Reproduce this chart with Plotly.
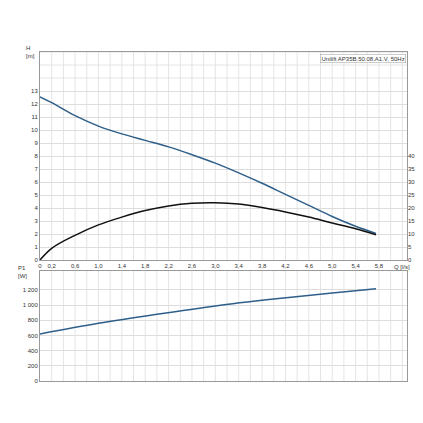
import plotly.graph_objects as go

q = [0, 0.2, 0.6, 1.0, 1.4, 1.8, 2.2, 2.6, 3.0, 3.4, 3.8, 4.2, 4.6, 5.0, 5.4, 5.75]
head = [12.55, 12.1, 11.1, 10.3, 9.7, 9.2, 8.7, 8.1, 7.45, 6.7, 5.9, 5.05, 4.2, 3.35, 2.6, 2.05]
eta = [0, 4.5, 9.5, 13.5, 16.5, 19, 20.8, 21.8, 22, 21.5, 20.2, 18.5, 16.5, 14.2, 12, 9.7]
qp = [0, 1, 2, 3, 4, 5, 5.75]
p1 = [620, 760, 880, 990, 1080, 1160, 1215]
xticks = [0, 0.2, 0.6, 1.0, 1.4, 1.8, 2.2, 2.6, 3.0, 3.4, 3.8, 4.2, 4.6, 5.0, 5.4, 5.8]
xlabels = [("%.1f" % v).replace(".", ",") if v else "0" for v in xticks]

fig = go.Figure()
fig.add_trace(go.Scatter(x=q, y=head, mode="lines", line=dict(color="#2e5f8a", width=1.5, shape="spline"), xaxis="x", yaxis="y"))
fig.add_trace(go.Scatter(x=q, y=eta, mode="lines", line=dict(color="#111111", width=1.5, shape="spline"), xaxis="x", yaxis="y2"))
fig.add_trace(go.Scatter(x=qp, y=p1, mode="lines", line=dict(color="#2e5f8a", width=1.5, shape="spline"), xaxis="x2", yaxis="y3"))

f = dict(family="Liberation Sans", size=6, color="#333333")
gc = "#dddddd"
xl, xr = 32/423, 399/423
fig.update_layout(
    width=423, height=423, margin=dict(l=0, r=0, t=0, b=0), showlegend=False,
    plot_bgcolor="white", paper_bgcolor="white", font=f,
    xaxis=dict(domain=[xl, xr], anchor="y", range=[0, 6.28], tickvals=xticks, ticktext=xlabels, automargin=False,
               showgrid=False, linecolor="#999", mirror=True, ticks="", zeroline=False),
    yaxis=dict(domain=[1-252/423, 1-44/423], range=[0, 16], tickvals=list(range(14)), showgrid=True, automargin=False,
               gridcolor=gc, linecolor="#999", mirror=True, zeroline=False),
    yaxis2=dict(overlaying="y", side="right", range=[0, 80], tickvals=list(range(0, 45, 5)), automargin=False,
                showgrid=False, zeroline=False),
    xaxis2=dict(domain=[xl, xr], anchor="y3", range=[0, 6.28], showticklabels=False, automargin=False,
                showgrid=False, linecolor="#999", mirror=True, zeroline=False),
    yaxis3=dict(domain=[1-373/423, 1-263/423], range=[0, 1450], tickvals=list(range(0, 1201, 200)), automargin=False,
                ticktext=["0", "200", "400", "600", "800", "1 000", "1 200"], showgrid=True,
                gridcolor=gc, linecolor="#999", mirror=True, zeroline=False),
)
shapes = []
for i in range(1, 32):
    v = i * 0.2
    for xa, ya in (("x", "y"), ("x2", "y3")):
        shapes.append(dict(type="line", xref=xa, yref=ya + " domain", x0=v, x1=v, y0=0, y1=1,
                           line=dict(color=gc, width=0.8), layer="below"))
for v in [14, 15, 16]:
    shapes.append(dict(type="line", xref="x domain", yref="y", x0=0, x1=1, y0=v, y1=v,
                       line=dict(color=gc, width=0.8), layer="below"))
fig.update_layout(shapes=shapes)
fig.add_annotation(text="H<br>[m]", xref="paper", yref="paper", x=16/423, y=1-44/423, showarrow=False, font=f, align="left", xanchor="left", yanchor="middle")
fig.add_annotation(text="eta<br>[%]", xref="paper", yref="paper", x=418/423, y=1-44/423, showarrow=False, font=f, align="right", xanchor="right", yanchor="middle")
fig.add_annotation(text="P1<br>[W]", xref="paper", yref="paper", x=8/423, y=1-264/423, showarrow=False, font=f, align="left", xanchor="left", yanchor="middle")
fig.add_annotation(text="Q [l/s]", xref="paper", yref="paper", x=384/423, y=1-259/423, showarrow=False, font=f, xanchor="left", yanchor="middle")
fig.add_annotation(text="Unilift AP35B.50.08.A1.V, 50Hz", xref="paper", yref="paper", x=398/423, y=1-46/423, showarrow=False,
                   font=f, xanchor="right", yanchor="top", bordercolor="#999", borderwidth=0.5, bgcolor="white")
fig.write_html("out.html")
